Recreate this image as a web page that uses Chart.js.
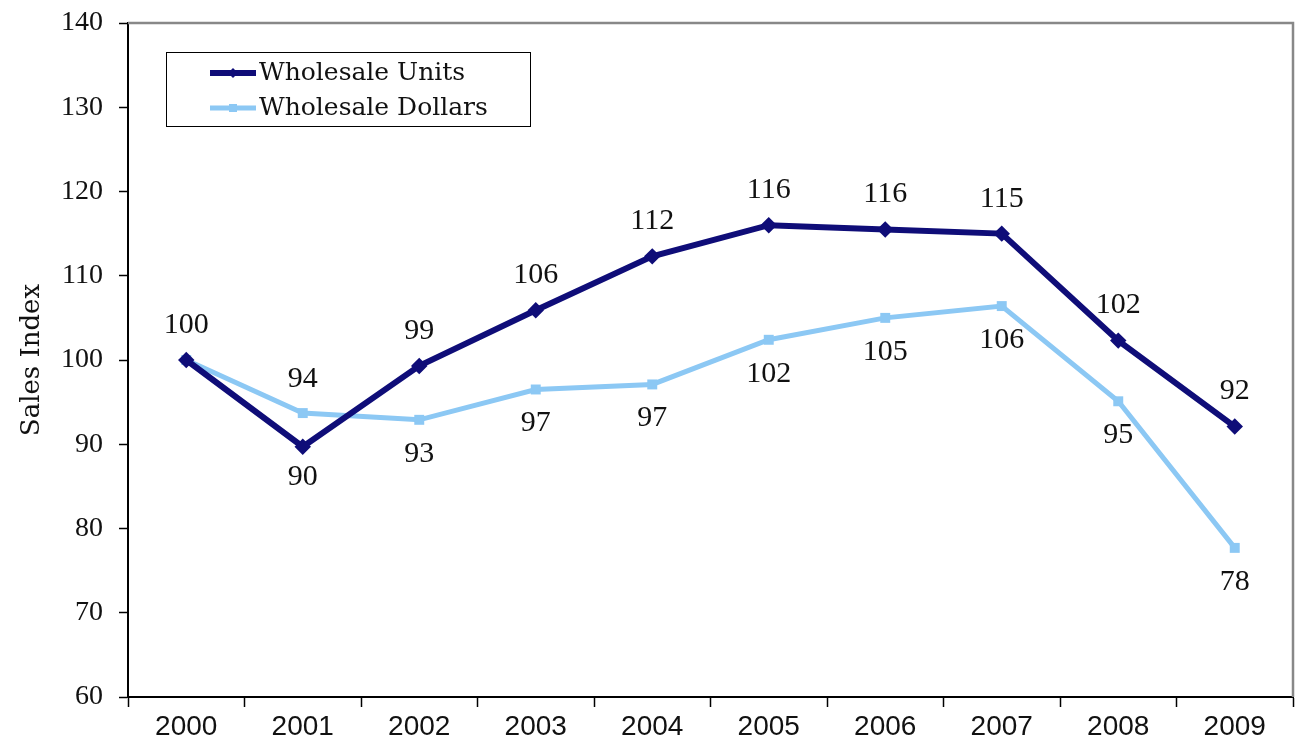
<!DOCTYPE html>
<html>
<head>
<meta charset="utf-8">
<script src="https://cdn.jsdelivr.net/npm/chart.js@4/dist/chart.umd.min.js"></script>
<style>
  html, body { margin: 0; padding: 0; background: #fff; }
  #wrap { width: 1303px; height: 755px; }
</style>
</head>
<body>
<div id="wrap"><canvas id="salesChart" width="1303" height="755"></canvas></div>
<script>
// Data
const years = ['2000', '2001', '2002', '2003', '2004', '2005', '2006', '2007', '2008', '2009'];
const unitsIndex = [100, 89.7, 99.3, 105.9, 112.3, 116.0, 115.5, 115.0, 102.3, 92.1];
const dollarsIndex = [100, 93.7, 92.9, 96.5, 97.1, 102.4, 105.0, 106.4, 95.1, 77.7];
const yTicks = [60, 70, 80, 90, 100, 110, 120, 130, 140];

const serif = '"Liberation Serif", "Times New Roman", serif';
const wideSerif = '"DejaVu Serif", serif';
const sans = '"Liberation Sans", Arial, sans-serif';

// Labels above/below each point, whichever line is on top gets the label above
const pointLabels = {
  id: 'pointLabels',
  afterDatasetsDraw(chart) {
    const ctx = chart.ctx;
    const a = chart.getDatasetMeta(0).data;
    const b = chart.getDatasetMeta(1).data;
    ctx.save();
    ctx.fillStyle = '#111';
    ctx.textAlign = 'center';
    ctx.textBaseline = 'middle';
    ctx.font = '30px ' + serif;
    years.forEach((y, i) => {
      const u = unitsIndex[i], d = dollarsIndex[i];
      const uUp = u >= d;
      ctx.fillText(Math.round(u), a[i].x, a[i].y + (uUp ? -35 : 30));
      if (Math.round(u) !== Math.round(d)) {
        ctx.fillText(Math.round(d), b[i].x, b[i].y + (uUp ? 34 : -34));
      }
    });
    ctx.restore();
  }
};

// Box on top/right of plot area plus the legend inside
const frameAndLegend = {
  id: 'frameAndLegend',
  afterDraw(chart) {
    const ctx = chart.ctx;
    const area = chart.chartArea;
    ctx.save();
    ctx.strokeStyle = '#888';
    ctx.lineWidth = 2.5;
    ctx.beginPath();
    ctx.moveTo(area.left, area.top);
    ctx.lineTo(area.right, area.top);
    ctx.lineTo(area.right, area.bottom);
    ctx.stroke();

    // legend box
    const lx = 166, ly = 52, lw = 364, lh = 74;
    ctx.fillStyle = '#fff';
    ctx.fillRect(lx, ly, lw, lh);
    ctx.strokeStyle = '#000';
    ctx.lineWidth = 1;
    ctx.strokeRect(lx + 0.5, ly + 0.5, lw, lh);
    const rows = [ly + 21, ly + 56];
    chart.data.datasets.forEach((ds, i) => {
      const yy = rows[i];
      ctx.strokeStyle = ds.borderColor;
      ctx.lineWidth = ds.borderWidth;
      ctx.beginPath();
      ctx.moveTo(210, yy);
      ctx.lineTo(256, yy);
      ctx.stroke();
      ctx.fillStyle = ds.borderColor;
      ctx.beginPath();
      if (ds.pointStyle === 'rectRot') {
        ctx.moveTo(233, yy - 5); ctx.lineTo(238, yy); ctx.lineTo(233, yy + 5); ctx.lineTo(228, yy);
      } else {
        ctx.rect(229, yy - 4, 8, 8);
      }
      ctx.fill();
      ctx.fillStyle = '#111';
      ctx.font = '25px ' + wideSerif;
      ctx.textAlign = 'left';
      ctx.textBaseline = 'middle';
      ctx.fillText(ds.label, 259, yy);
    });
    ctx.restore();
  }
};

new Chart(document.getElementById('salesChart').getContext('2d'), {
  type: 'line',
  data: {
    labels: years,
    datasets: [{
      label: 'Wholesale Units',
      data: unitsIndex,
      borderColor: '#0f0d78',
      backgroundColor: '#0f0d78',
      borderWidth: 6,
      pointStyle: 'rectRot',
      pointRadius: 4,
      tension: 0
    }, {
      label: 'Wholesale Dollars',
      data: dollarsIndex,
      borderColor: '#8cc8f4',
      backgroundColor: '#8cc8f4',
      borderWidth: 5,
      pointStyle: 'rect',
      pointRadius: 3.5,
      tension: 0
    }]
  },
  options: {
    responsive: false,
    animation: false,
    layout: { padding: { left: 0, right: 10, top: 22, bottom: 0 } },
    plugins: {
      legend: { display: false },
      tooltip: { enabled: false }
    },
    scales: {
      x: {
        offset: true,
        grid: { offset: true, drawOnChartArea: false, color: '#000', tickLength: 10, tickWidth: 1.5 },
        border: { color: '#000', width: 2 },
        ticks: { color: '#111', font: { family: sans, size: 28 }, padding: 3, maxRotation: 0 },
        afterFit(scale) { scale.height = 58; }
      },
      y: {
        min: 60,
        max: 140,
        afterBuildTicks(scale) { scale.ticks = yTicks.map(v => ({ value: v })); },
        grid: { drawOnChartArea: false, color: '#000', tickLength: 9, tickWidth: 1.5 },
        border: { color: '#000', width: 2 },
        ticks: { color: '#111', font: { family: serif, size: 28, lineHeight: 0.5 }, padding: 16 },
        title: { display: true, text: 'Sales Index', color: '#111', font: { family: wideSerif, size: 26 }, padding: { top: 17, bottom: 0 } },
        afterFit(scale) { scale.width = 128; }
      }
    }
  },
  plugins: [pointLabels, frameAndLegend]
});
</script>
</body>
</html>
